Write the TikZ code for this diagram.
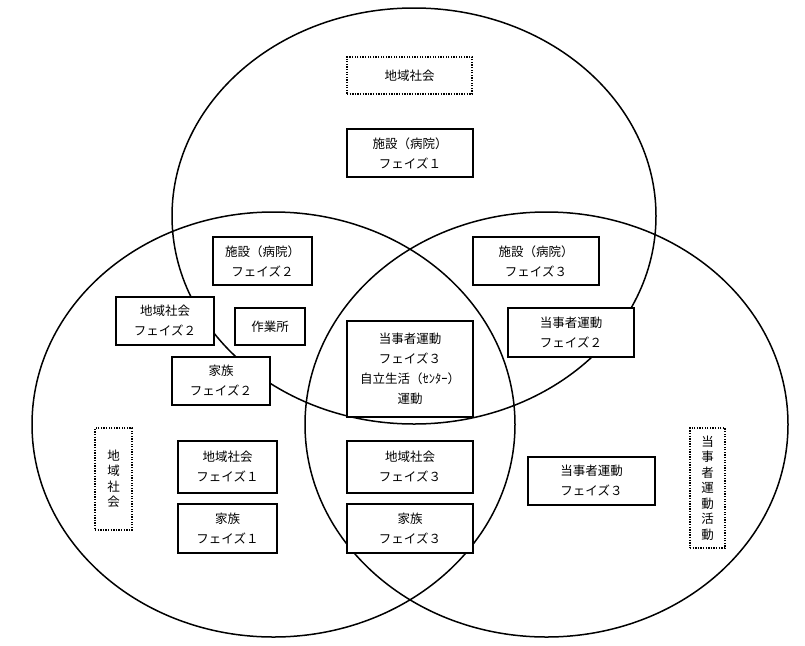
\documentclass[tikz,border=0pt]{standalone}
\usepackage{fontspec}
\newfontfamily\jp{Noto Sans CJK JP}
\begin{document}
\begin{tikzpicture}[x=1pt,y=-1pt,
  lbl/.style={font=\jp\fontsize{12.5}{20}\selectfont, align=center, inner sep=0pt, fill=white, text=black},
  box/.style={lbl, draw=black, line width=1.7pt},
  dbox/.style={lbl, draw=black, line width=1.3pt, dash pattern=on 1.3pt off 1.3pt},
  vbox/.style={dbox, font=\jp\fontsize{12.5}{15.5}\selectfont},
  ring/.style={draw=black, line width=1.5pt}]
\useasboundingbox (0,0) rectangle (805,645);
\fill[white] (0,0) rectangle (805,645);
% circles
\draw[ring] (414,216) ellipse [x radius=242pt, y radius=208pt];
\draw[ring] (273.5,424.5) ellipse [x radius=241.5pt, y radius=212.5pt];
\draw[ring] (546.5,424.5) ellipse [x radius=241.5pt, y radius=212.5pt];
% dotted labels
\node[dbox, minimum width=125pt, minimum height=37pt] (d1) at (409.5,75.5) {地域社会};
\node[vbox, minimum width=37pt, minimum height=102pt] (d2) at (113.5,479) {地\\域\\社\\会};
\node[vbox, minimum width=35pt, minimum height=120pt] (d3) at (707.5,488) {当\\事\\者\\運\\動\\活\\動};
% boxes
\node[box, minimum width=126pt, minimum height=48pt] (b1) at (410,153) {施設（病院）\\フェイズ１};
\node[box, minimum width=99pt, minimum height=48pt] (b2) at (262.5,261) {施設（病院）\\フェイズ２};
\node[box, minimum width=126pt, minimum height=48pt] (b3) at (536,261) {施設（病院）\\フェイズ３};
\node[box, minimum width=98pt, minimum height=48pt] (b4) at (165,321) {地域社会\\フェイズ２};
\node[box, minimum width=70pt, minimum height=37pt] (b5) at (270,326.5) {作業所};
\node[box, minimum width=98pt, minimum height=48pt] (b6) at (221,381) {家族\\フェイズ２};
\node[box, minimum width=126pt, minimum height=49pt] (b7) at (571,332.5) {当事者運動\\フェイズ２};
\node[box, minimum width=126pt, minimum height=96pt] (b8) at (410,369) {当事者運動\\フェイズ３\\自立生活（ｾﾝﾀｰ）\\運動};
\node[box, minimum width=99pt, minimum height=52pt] (b9) at (227.5,467) {地域社会\\フェイズ１};
\node[box, minimum width=99pt, minimum height=49pt] (b10) at (227.5,528.5) {家族\\フェイズ１};
\node[box, minimum width=126pt, minimum height=52pt] (b11) at (410,467) {地域社会\\フェイズ３};
\node[box, minimum width=126pt, minimum height=49pt] (b12) at (410,528.5) {家族\\フェイズ３};
\node[box, minimum width=127pt, minimum height=48pt] (b13) at (591.5,481) {当事者運動\\フェイズ３};
\end{tikzpicture}
\end{document}
